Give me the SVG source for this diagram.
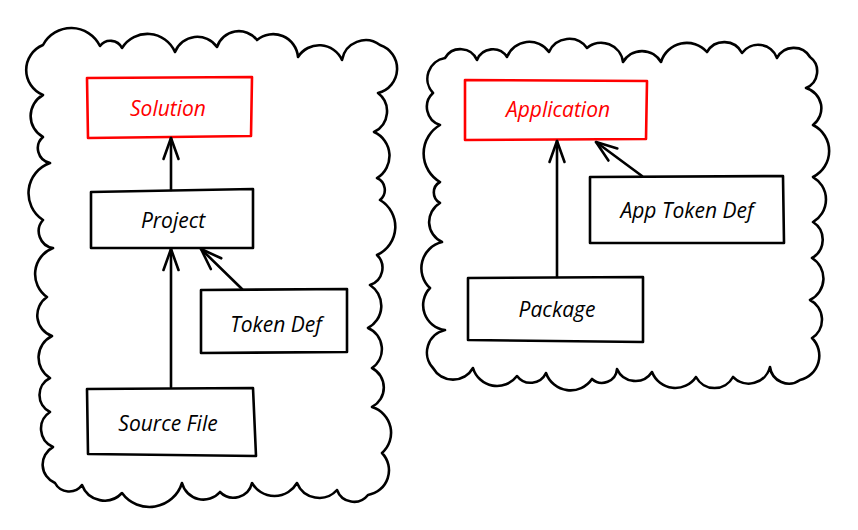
<svg xmlns="http://www.w3.org/2000/svg" width="858" height="530" viewBox="0 0 858 530">
<defs>
<style>
.cloud{fill:#fff;stroke:#000;stroke-width:2.6;stroke-linejoin:round;stroke-linecap:round}
.box{fill:#fff;stroke:#000;stroke-width:2.6;stroke-linejoin:round}
.box.red{stroke:#f00}
.lbl{font-family:"Open Sans","Noto Sans","DejaVu Sans",sans-serif;font-style:italic;font-size:21px;fill:#000;text-anchor:middle}
.lbl.red{fill:#f00}
.conn line{stroke:#000;stroke-width:2.6;stroke-linecap:round;marker-end:url(#ah)}
</style>
<marker id="ah" markerUnits="userSpaceOnUse" markerWidth="30" markerHeight="30" viewBox="-25 -15 30 30" refX="0" refY="0" orient="auto" overflow="visible">
<path d="M-21,-7.5 L0,0 L-21,7.5" fill="none" stroke="#000" stroke-width="2.6" stroke-linecap="round" stroke-linejoin="round"/>
</marker>
</defs>
<rect width="858" height="530" fill="#fff"/>

<g id="cloud-left">
<path class="cloud" d="M43,45 A32,32 0 0 1 100,46 A13,13 0 0 1 122,48 A30,30 0 0 1 175,52 A24,24 0 0 1 217,47 A23,23 0 0 1 257,40 A25,25 0 0 1 298,57 A25,25 0 0 1 342,60 A24,24 0 0 1 380,45 A25,25 0 0 1 378,93 A23,23 0 0 1 374,132 A26,26 0 0 1 377,178 A13,13 0 0 1 380,200 A31,31 0 0 1 377,255 A18,18 0 0 1 370,285 A25,25 0 0 1 368,328 A23,23 0 0 1 372,368 A22,22 0 0 1 372,407 A27,27 0 0 1 382,453 A25,25 0 0 1 368,495 A18,18 0 0 1 337,490 A24,24 0 0 1 297,483 A26,26 0 0 1 252,483 A19,19 0 0 1 220,492 A22,22 0 0 1 182,483 A34,34 0 0 1 122,493 A24,24 0 0 1 82,485 A16,16 0 0 1 55,483 A20,20 0 0 1 53,447 A20,20 0 0 1 50,412 A19,19 0 0 1 50,378 A24,24 0 0 1 52,336 A22,22 0 0 1 47,297 A28,28 0 0 1 53,248 A17,17 0 0 1 43,220 A32,32 0 0 1 50,163 A15,15 0 0 1 43,137 A24,24 0 0 1 43,95 A27,27 0 0 1 43,45 Z"/>
</g>

<g id="cloud-right">
<path class="cloud" d="M445,58 A18,18 0 0 1 477,60 A17,17 0 0 1 507,57 A24,24 0 0 1 549,52 A22,22 0 0 1 587,48 A22,22 0 0 1 623,62 A22,22 0 0 1 661,62 A27,27 0 0 1 707,52 A20,20 0 0 1 742,53 A20,20 0 0 1 777,58 A19,19 0 0 1 810,57 A18,18 0 0 1 806,88 A21,21 0 0 1 813,125 A29,29 0 0 1 813,177 A26,26 0 0 1 813,222 A21,21 0 0 1 812,258 A24,24 0 0 1 810,300 A22,22 0 0 1 812,338 A25,25 0 0 1 800,380 A19,19 0 0 1 770,367 A22,22 0 0 1 733,377 A21,21 0 0 1 696,377 A25,25 0 0 1 652,372 A20,20 0 0 1 617,369 A15,15 0 0 1 592,379 A26,26 0 0 1 546,373 A17,17 0 0 1 517,376 A25,25 0 0 1 473,368 A23,23 0 0 1 433,368 A23,23 0 0 1 445,330 A25,25 0 0 1 430,288 A27,27 0 0 1 442,242 A22,22 0 0 1 440,203 A12,12 0 0 1 440,182 A33,33 0 0 1 440,125 A19,19 0 0 1 433,93 A21,21 0 0 1 445,58 Z"/>
</g>

<g id="solution">
<path class="box red" d="M87,78 L252,77 L251,136 L88,138 Z"/>
<text class="lbl red" x="168" y="116">Solution</text>
</g>

<g id="project">
<path class="box" d="M91,192 L253,189 L253,248 L91,248 Z"/>
<text class="lbl" x="173" y="228">Project</text>
</g>

<g id="token-def">
<path class="box" d="M201,290 L347,289 L347,352 L201,353 Z"/>
<text class="lbl" x="276" y="332">Token Def</text>
</g>

<g id="source-file">
<path class="box" d="M87,389 L253,388 L256,456 L88,454 Z"/>
<text class="lbl" x="168" y="431">Source File</text>
</g>

<g id="application">
<path class="box red" d="M465,80 L647,81 L646,139 L465,140 Z"/>
<text class="lbl red" x="558" y="117">Application</text>
</g>

<g id="app-token-def">
<path class="box" d="M590,177 L783,176 L784,243 L590,243 Z"/>
<text class="lbl" x="687" y="218">App Token Def</text>
</g>

<g id="package">
<path class="box" d="M468,278 L643,277 L643,342 L468,340 Z"/>
<text class="lbl" x="557" y="317">Package</text>
</g>

<g id="connectors" class="conn">
<line x1="171" y1="190" x2="171" y2="138"/>
<line x1="171" y1="387" x2="171" y2="249"/>
<line x1="242" y1="289" x2="201" y2="249"/>
<line x1="557" y1="277" x2="557" y2="141"/>
<line x1="642" y1="176" x2="596" y2="142"/>
</g>
</svg>
